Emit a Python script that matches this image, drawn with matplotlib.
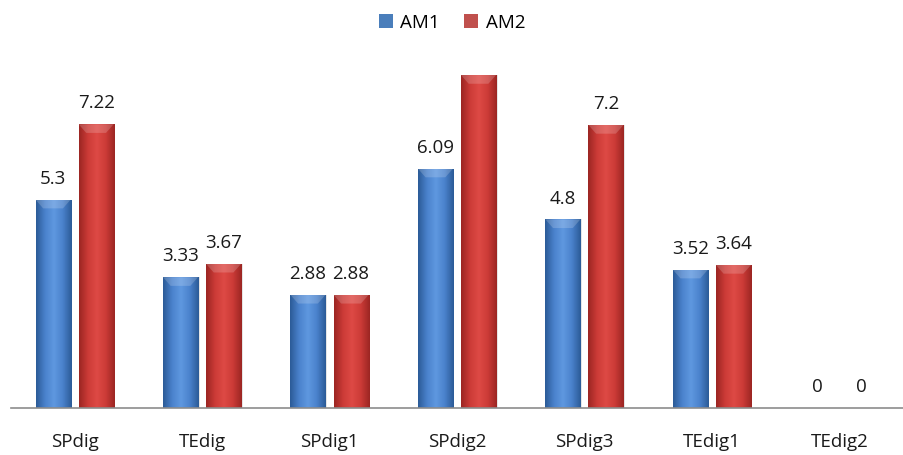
import numpy as np
import matplotlib
matplotlib.use("Agg")
import matplotlib.pyplot as plt
from matplotlib.patches import Rectangle
from matplotlib.colors import LinearSegmentedColormap

categories = ["SPdig", "TEdig", "SPdig1", "SPdig2", "SPdig3", "TEdig1", "TEdig2"]
am1 = [5.3, 3.33, 2.88, 6.09, 4.8, 3.52, 0]
am2 = [7.22, 3.67, 2.88, 8.47, 7.2, 3.64, 0]
series = [("AM1", am1), ("AM2", am2)]

# edge / centre tones of the cylinder-like bar shading
shades = {
    "AM1": ["#2c5b98", "#4a82cc", "#5f98e0", "#4a82cc", "#2c5b98"],
    "AM2": ["#9c2623", "#cc3b37", "#de4a45", "#cc3b37", "#9c2623"],
}
flat = {"AM1": "#4a7ebb", "AM2": "#c0504d"}

plt.rcParams["font.family"] = ["Open Sans", "DejaVu Sans"]
fs = 13.5

fig = plt.figure(figsize=(9.04, 4.55), dpi=100)
ax = fig.add_axes([0.012, 0.103, 0.987, 0.732])
ymax = 8.47
ax.set_xlim(-0.5, len(categories) - 0.5)
ax.set_ylim(0, ymax)

width = 0.275
offsets = [-0.169, 0.169]
grad = np.linspace(0, 1, 64).reshape(1, -1)

for (name, vals), off in zip(series, offsets):
    cmap = LinearSegmentedColormap.from_list(name, shades[name])
    for i, v in enumerate(vals):
        if v <= 0:
            continue
        x0 = i + off - width / 2
        rect = Rectangle((x0, 0), width, v, facecolor="none", edgecolor="none")
        ax.add_patch(rect)
        # soft shadow on the right
        ax.add_patch(Rectangle((x0 + 0.012, 0), width, v, facecolor="#000000",
                               alpha=0.10, edgecolor="none", zorder=1))
        im = ax.imshow(grad, cmap=cmap, aspect="auto",
                       extent=(x0, x0 + width, 0, v), zorder=2,
                       interpolation="bilinear")
        im.set_clip_path(rect)
        # lighter bevel at the top of the bar
        bev = min(0.22, v * 0.1)
        ax.fill([x0, x0 + width, x0 + width - 0.06, x0 + 0.06],
                [v, v, v - bev, v - bev], color="white", alpha=0.18,
                lw=0, zorder=3)
        ax.text(i + off, v + 0.3, f"{v:g}", ha="center", va="bottom",
                fontsize=fs, color="#1a1a1a", clip_on=True, zorder=4)

# zero-valued bars only carry a label
for (name, vals), off in zip(series, offsets):
    for i, v in enumerate(vals):
        if v <= 0:
            ax.text(i + off, v + 0.3, f"{v:g}", ha="center", va="bottom",
                    fontsize=fs, color="#1a1a1a", zorder=4)

ax.set_xticks(range(len(categories)))
ax.set_xticklabels(categories, fontsize=fs, color="#1a1a1a")
ax.tick_params(axis="x", length=0, pad=18)
ax.set_yticks([])
for s in ["top", "right", "left"]:
    ax.spines[s].set_visible(False)
ax.spines["bottom"].set_color("#8c8c8c")
ax.spines["bottom"].set_linewidth(1.2)

handles = [Rectangle((0, 0), 1, 1, facecolor=flat[n], edgecolor="none")
           for n, _ in series]
fig.legend(handles, [n for n, _ in series], loc="center",
           bbox_to_anchor=(0.5, 0.95), ncol=2, frameon=False,
           fontsize=fs, handlelength=0.75, handleheight=0.75,
           handletextpad=0.4, columnspacing=1.3)

fig.savefig("out.png", dpi=100)
